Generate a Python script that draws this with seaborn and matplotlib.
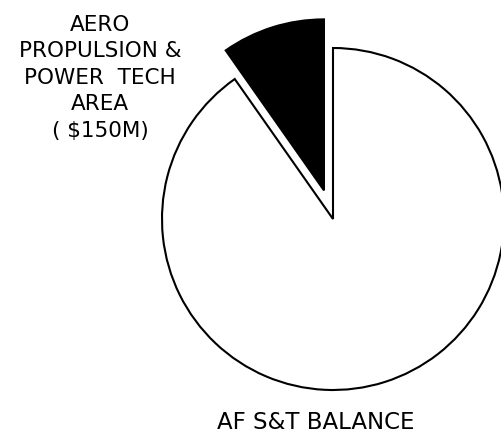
import matplotlib
matplotlib.use("Agg")
import matplotlib.pyplot as plt
import seaborn as sns

# funding split ($M)
labels = ["AERO\nPROPULSION &\nPOWER  TECH\nAREA\n( $150M)", "AF S&T BALANCE"]
values = [150, 1390]
colors = ["black", "white"]

sns.set_theme(style="white")
plt.rcParams["font.family"] = ["DejaVu Sans"]

fig = plt.figure(figsize=(5.01, 4.36), dpi=100)
ax = fig.add_axes([0, 0, 1, 1])

# pixel-like data coords so the layout is easy to place
# (explode is in data units here, not a fraction of the radius)
ax.pie(values, colors=colors, explode=[30, 0], startangle=90,
       radius=171, center=(333, 217), frame=True,
       wedgeprops=dict(edgecolor="black", linewidth=1.5))
ax.set_xlim(0, 501)
ax.set_ylim(0, 436)
ax.set_aspect("equal")
ax.axis("off")

ax.text(100, 436 - 15, labels[0], ha="center", va="top", fontsize=15.5,
        linespacing=1.4, color="black")
ax.text(316, 436 - 434, labels[1], ha="center", va="bottom", fontsize=16.5,
        color="black")

fig.savefig("out.png", dpi=100, facecolor="white")
